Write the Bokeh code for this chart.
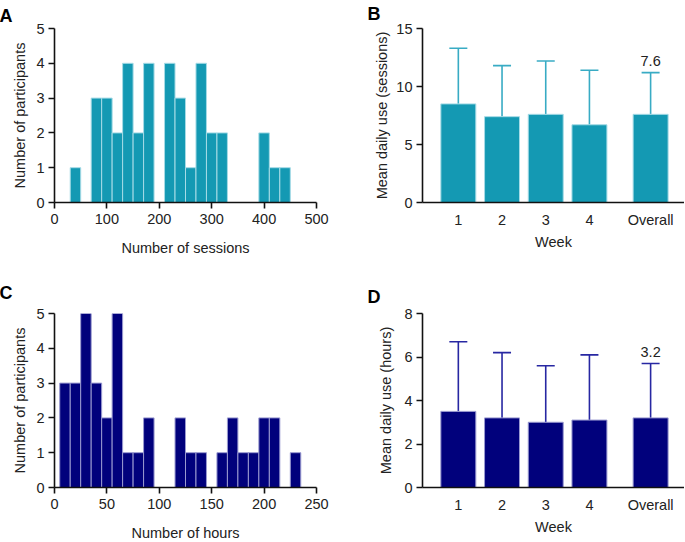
from bokeh.plotting import figure
from bokeh.layouts import column, row
from bokeh.models import Range1d, FixedTicker, Title, Whisker, TeeHead, ColumnDataSource
from bokeh.core.properties import value
from bokeh.embed import file_html
from bokeh.resources import INLINE

# ---------------- data ----------------
# Panel A: histogram of number of sessions (bin width 20)
sessions_bin_centers = [40, 60, 80, 100, 120, 140, 160, 180, 200, 220, 240,
                        260, 280, 300, 320, 340, 360, 380, 400, 420, 440]
sessions_counts = [1, 0, 3, 3, 2, 4, 2, 4, 0, 4, 3, 1, 4, 2, 2, 0, 0, 0, 2, 1, 1]
sessions_bin_width = 20

# Panel C: histogram of number of hours (bin width 10)
hours_bin_centers = [10, 20, 30, 40, 50, 60, 70, 80, 90, 100, 110, 120,
                     130, 140, 150, 160, 170, 180, 190, 200, 210, 220, 230]
hours_counts = [3, 3, 5, 3, 2, 5, 1, 1, 2, 0, 0, 2, 1, 1, 0, 1, 2, 1, 1, 2, 2, 0, 1]
hours_bin_width = 10

# Panels B and D: mean daily use per week
week_labels = ["1", "2", "3", "4", "Overall"]
week_positions = [1, 2, 3, 4, 5.4]
mean_sessions = [8.5, 7.4, 7.6, 6.7, 7.6]
sd_sessions = [4.8, 4.4, 4.6, 4.7, 3.6]
mean_hours = [3.5, 3.2, 3.0, 3.1, 3.2]
sd_hours = [3.2, 3.0, 2.6, 3.0, 2.5]

TEAL = "#1499b3"
TEAL_ERR = "#38abc4"
TEAL_EDGE = "#a6dbe6"
NAVY = "#01017c"
NAVY_ERR = "#2727a2"
NAVY_EDGE = "#9a9ad0"
FONT = "Liberation Sans"
TICK_SIZE = "14.5px"
LABEL_SIZE = "14.5px"

# layout (pixels)
LEFT_W = 366          # width of left-column figures
HIST_LEFT = 54        # left border of histograms
HIST_FW = 262
BAR_LEFT = 56
BAR_FW = 262
FH = 174
TOP1, BOT1 = 28, 60
TOP2, BOT2 = 51, 53


def style(p, xlabel, ylabel, xstand, ystand):
    p.xgrid.visible = False
    p.ygrid.visible = False
    p.outline_line_color = None
    p.background_fill_color = "white"
    p.border_fill_color = "white"
    p.xaxis.axis_label = xlabel
    p.yaxis.axis_label = ylabel
    for ax in (p.xaxis[0], p.yaxis[0]):
        ax.axis_line_width = 1.6
        ax.axis_line_color = "#111111"
        ax.major_tick_line_width = 1.6
        ax.major_tick_line_color = "#111111"
        ax.major_tick_out = 6
        ax.major_tick_in = 0
        ax.minor_tick_out = 0
        ax.minor_tick_in = 0
        ax.major_label_text_font = FONT
        ax.major_label_text_font_size = TICK_SIZE
        ax.major_label_text_color = "#222222"
        ax.major_label_standoff = 4
        ax.axis_label_text_font = FONT
        ax.axis_label_text_font_size = LABEL_SIZE
        ax.axis_label_text_font_style = "normal"
        ax.axis_label_text_color = "#222222"
    p.xaxis.axis_label_standoff = xstand
    p.yaxis.axis_label_standoff = ystand


def add_letter(p, text, offset, standoff, valign="bottom"):
    p.title = Title(text=text, align="left", offset=offset, standoff=standoff,
                    vertical_align=valign,
                    text_font=FONT, text_font_size="18px", text_font_style="bold",
                    text_color="black")


def histogram(centers, counts, bw, xmax, xstep, color, edge, xlabel,
              top_border, bottom_border, letter_text, letter_standoff):
    p = figure(frame_width=HIST_FW, frame_height=FH, width=LEFT_W,
               height=top_border + FH + bottom_border,
               min_border_left=HIST_LEFT, min_border_right=LEFT_W - HIST_LEFT - HIST_FW,
               min_border_top=top_border, min_border_bottom=bottom_border,
               x_range=Range1d(0, xmax), y_range=Range1d(0, 5),
               output_backend="svg", toolbar_location=None)
    keep = [i for i, c in enumerate(counts) if c > 0]
    src = ColumnDataSource(dict(
        left=[centers[i] - bw / 2 for i in keep],
        right=[centers[i] + bw / 2 for i in keep],
        top=[counts[i] for i in keep]))
    p.quad(left="left", right="right", bottom=0, top="top", source=src,
           fill_color=color, line_color=edge, line_width=1)
    style(p, xlabel, "Number of participants", 13, 5)
    p.xaxis.ticker = FixedTicker(ticks=list(range(0, xmax + 1, xstep)))
    p.yaxis.ticker = FixedTicker(ticks=[0, 1, 2, 3, 4, 5])
    p.xaxis.major_label_standoff = 5
    add_letter(p, letter_text, -(HIST_LEFT + 1), letter_standoff)
    return p


def barchart(means, sds, ymax, yticks, color, err, edge, ylabel, top_border,
             bottom_border, letter_text, letter_standoff, fmt, ystand, valign):
    xs = 0.18
    xe = xs + BAR_FW / 43.7
    p = figure(frame_width=BAR_FW, frame_height=FH, width=BAR_LEFT + BAR_FW,
               height=top_border + FH + bottom_border,
               min_border_left=BAR_LEFT, min_border_right=0,
               min_border_top=top_border, min_border_bottom=bottom_border,
               x_range=Range1d(xs, xe), y_range=Range1d(0, ymax),
               output_backend="svg", toolbar_location=None)
    upper = [m + s for m, s in zip(means, sds)]
    src = ColumnDataSource(dict(x=week_positions, top=means, upper=upper))
    p.vbar(x="x", top="top", bottom=0, width=0.8, source=src,
           fill_color=color, line_color=edge, line_width=1)
    p.add_layout(Whisker(base="x", lower="top", upper="upper", source=src,
                         dimension="height", line_color=err, line_width=1.6,
                         upper_head=TeeHead(size=18, line_color=err, line_width=1.6),
                         lower_head=None))
    lab = ColumnDataSource(dict(x=[week_positions[-1]], y=[upper[-1]],
                                t=[fmt.format(means[-1])]))
    p.text(x="x", y="y", text="t", source=lab, text_align="center",
           text_baseline="alphabetic", y_offset=-12, text_font_size=TICK_SIZE,
           text_color="#222222", text_font=value(FONT))
    style(p, "Week", ylabel, 3, ystand)
    p.xaxis.ticker = FixedTicker(ticks=week_positions)
    p.xaxis.major_label_overrides = {pos: l for pos, l in zip(week_positions, week_labels)}
    p.xaxis.major_tick_out = 0
    p.xaxis.major_label_standoff = 9
    p.yaxis.ticker = FixedTicker(ticks=yticks)
    add_letter(p, letter_text, -(BAR_LEFT - 1), letter_standoff, valign)
    return p


pA = histogram(sessions_bin_centers, sessions_counts, sessions_bin_width, 500, 100,
               TEAL, TEAL_EDGE, "Number of sessions", TOP1, BOT1, "A", 6)
pC = histogram(hours_bin_centers, hours_counts, hours_bin_width, 250, 50,
               NAVY, NAVY_EDGE, "Number of hours", TOP2, BOT2, "C", 21)
pB = barchart(mean_sessions, sd_sessions, 15, [0, 5, 10, 15], TEAL, TEAL_ERR, TEAL_EDGE,
              "Mean daily use (sessions)", TOP1, BOT1, "B", 6, "{:.1f}", 3, "top")
pD = barchart(mean_hours, sd_hours, 8, [0, 2, 4, 6, 8], NAVY, NAVY_ERR, NAVY_EDGE,
              "Mean daily use (hours)", TOP2, BOT2, "D", 14, "{:.1f}", 7, "bottom")

layout = column(row(pA, pB), row(pC, pD))
open("out.html", "w").write(file_html(layout, INLINE))
